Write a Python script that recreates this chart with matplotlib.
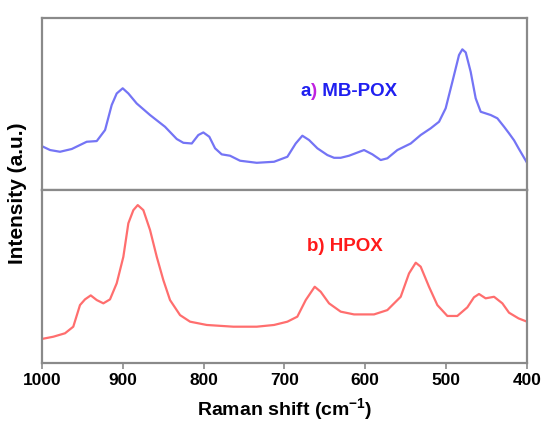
import matplotlib
matplotlib.use("Agg")
import matplotlib.pyplot as plt
from matplotlib.offsetbox import TextArea, HPacker, AnchoredOffsetbox

plt.rcParams['font.family'] = ['Liberation Sans', 'DejaVu Sans']
plt.rcParams['font.weight'] = 'bold'
plt.rcParams['mathtext.fontset'] = 'custom'
plt.rcParams['mathtext.bf'] = 'Liberation Sans:bold'
plt.rcParams['mathtext.rm'] = 'Liberation Sans:bold'
plt.rcParams['mathtext.default'] = 'bf'

# spectra (arbitrary units, 0-100 per panel)
shift_a = [1000, 989.7, 977.4, 962.9, 944.4, 932, 921.7, 913.5, 907.3, 899.9,
           892.9, 882.6, 866.1, 847.6, 833.1, 824.9, 814.5, 806.4, 800.2, 792.8,
           785.7, 777.5, 767.2, 754.8, 734.2, 712.8, 696.3, 686, 677.8, 669.5,
           659.2, 646.9, 638.6, 630.4, 620.1, 601.5, 591.2, 580.9, 572.7, 560.3,
           543.8, 531.5, 519.1, 508.8, 500.6, 492.3, 484.1, 480, 475.8, 469.7,
           463.5, 457.3, 444.9, 436.7, 428.4, 422.3, 416, 410.5, 400]
int_a = [25.5, 23.2, 22.2, 23.8, 28.0, 28.4, 34.8, 49.3, 56.0, 59.0,
         56.0, 50.2, 43.5, 36.7, 29.6, 27.4, 27.0, 31.9, 33.4, 30.9,
         24.2, 20.7, 19.9, 17.0, 15.8, 16.4, 19.3, 27.0, 31.5, 29.0,
         24.2, 20.3, 18.7, 18.7, 19.9, 23.2, 20.7, 17.4, 18.4, 23.2,
         27.0, 31.9, 35.8, 39.6, 47.4, 62.8, 78.3, 81.6, 79.8, 68.6,
         53.2, 45.4, 43.5, 41.6, 36.7, 32.9, 28.8, 24.2, 15.8]

shift_b = [1000, 985.7, 971.2, 961, 952.7, 946.5, 939.4, 932, 923.8, 915.6,
           907.3, 899.1, 892.9, 886.7, 881.3, 874.4, 866.1, 857.8, 849.7, 841.4,
           829, 816.6, 796, 763.1, 734.2, 712.8, 696.3, 684, 673.6, 662.5,
           655.1, 644.8, 630.4, 613.9, 589.2, 572.7, 556.2, 545.9, 537.6, 531.5,
           521.2, 510.9, 498.5, 486.2, 473.8, 465.6, 459.4, 451.2, 440.8, 430.5,
           422.3, 410.5, 400]
int_b = [13.9, 15.2, 17.2, 21.0, 33.5, 36.8, 39.1, 36.4, 34.5, 36.8,
         46.1, 61.4, 80.8, 88.4, 91.3, 88.4, 76.9, 61.4, 48.0, 36.4,
         27.7, 23.9, 22.0, 21.0, 21.0, 22.0, 23.9, 26.8, 36.4, 44.1,
         41.2, 34.5, 29.7, 28.1, 28.1, 30.6, 38.3, 51.8, 58.0, 55.7,
         44.1, 33.5, 27.2, 27.2, 32.2, 38.0, 39.9, 37.4, 38.3, 34.5,
         29.1, 25.8, 23.9]

xticks = [1000, 900, 800, 700, 600, 500, 400]

fig = plt.figure(figsize=(5.42, 4.29), dpi=100)
ax_top = fig.add_axes([0.077, 0.557, 0.8954, 0.402])
ax_bot = fig.add_axes([0.077, 0.1538, 0.8954, 0.4032])

frame = '#8a8a8a'
for ax in (ax_top, ax_bot):
    ax.set_xlim(1000, 400)
    ax.set_ylim(0, 100)
    ax.set_yticks([])
    for sp in ax.spines.values():
        sp.set_color(frame)
        sp.set_linewidth(1.6)

ax_top.plot(shift_a, int_a, color='#7474f5', lw=1.6)
ax_bot.plot(shift_b, int_b, color='#ff6e6e', lw=1.6)

ax_top.set_xticks([])
ax_bot.set_xticks(xticks)
ax_bot.set_xticklabels([str(t) for t in xticks])
ax_bot.tick_params(axis='x', direction='out', length=4, width=1.2, color=frame,
                   labelsize=12.5, pad=3)
ax_bot.set_xlabel(r'Raman shift (cm$^{-1}$)', fontsize=14, fontweight='bold', labelpad=6)
fig.text(0.033, 0.549, 'Intensity (a.u.)', rotation=90, ha='center', va='center',
         fontsize=15, fontweight='bold')

# "a) MB-POX" with a magenta bracket
lab = dict(fontsize=13.5, fontweight='bold')
parts = [TextArea('a', textprops=dict(color='#2020f0', **lab)),
         TextArea(')', textprops=dict(color='#c020e0', **lab)),
         TextArea(' MB-POX', textprops=dict(color='#2020f0', **lab))]
box = HPacker(children=parts, align='baseline', pad=0, sep=0)
anchored = AnchoredOffsetbox(loc='center left', child=box, pad=0, frameon=False,
                             bbox_to_anchor=(0.534, 0.574), bbox_transform=ax_top.transAxes,
                             borderpad=0)
ax_top.add_artist(anchored)

ax_bot.text(0.547, 0.672, 'b) HPOX', transform=ax_bot.transAxes, color='#ff1a1a',
            ha='left', va='center', **lab)

fig.savefig('out.png', dpi=100)
